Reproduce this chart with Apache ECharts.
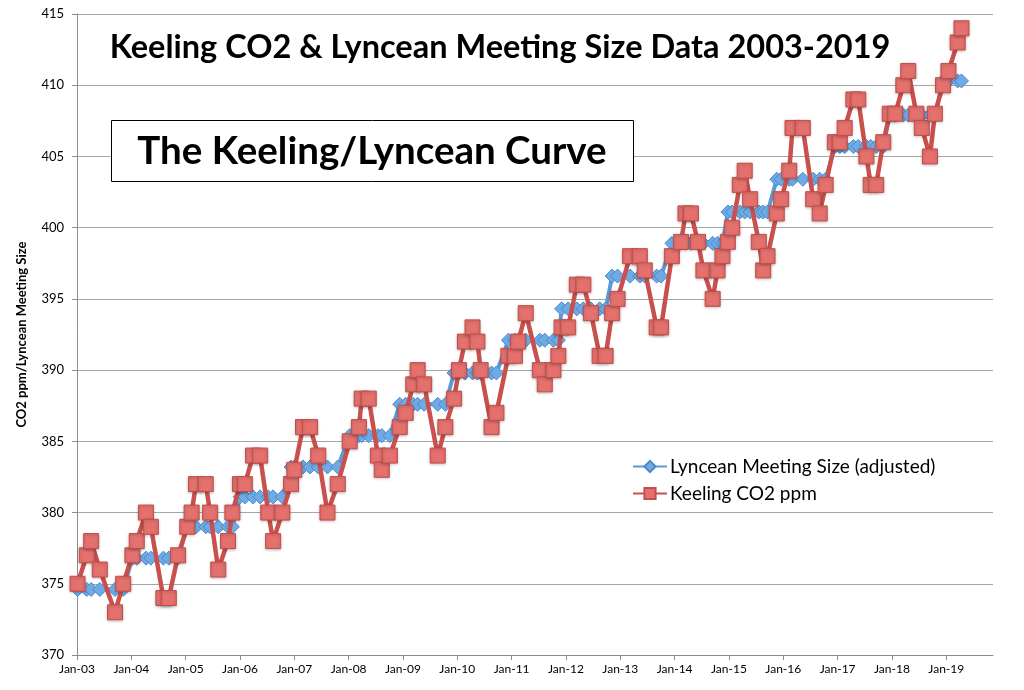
<!DOCTYPE html>
<html>
<head>
<meta charset="utf-8">
<script src="https://cdn.jsdelivr.net/npm/echarts@6/dist/echarts.min.js"></script>
<style>
html,body{margin:0;padding:0;background:#fff;}
#chart{width:1024px;height:690px;}
</style>
</head>
<body>
<div id="chart"></div>
<script>
// Meeting dates as decimal years
var meetingDates = [
2003.01,2003.18,2003.26,2003.42,2003.70,2003.85,
2004.02,2004.10,2004.27,2004.36,2004.59,2004.69,2004.86,
2005.03,2005.11,2005.19,2005.37,2005.45,2005.60,2005.78,2005.86,
2006.00,2006.09,2006.24,2006.37,2006.52,2006.61,2006.78,
2006.94,2007.00,2007.16,2007.29,2007.44,2007.61,2007.80,
2008.02,2008.19,2008.24,2008.37,2008.54,2008.61,2008.76,
2008.94,2009.05,2009.19,2009.27,2009.39,2009.64,2009.78,
2009.94,2010.03,2010.14,2010.28,2010.37,2010.43,2010.63,2010.72,
2010.94,2011.06,2011.12,2011.26,2011.52,2011.61,2011.77,2011.86,
2011.92,2012.04,2012.20,2012.32,2012.46,2012.62,2012.73,
2012.85,2012.95,2013.18,2013.36,2013.45,2013.67,2013.75,
2013.95,2014.12,2014.20,2014.30,2014.43,2014.53,2014.70,2014.79,2014.88,
2014.98,2015.06,2015.20,2015.29,2015.39,2015.55,2015.63,2015.71,
2015.88,2015.96,2016.11,2016.17,2016.36,2016.55,2016.67,2016.78,
2016.95,2017.04,2017.13,2017.29,2017.38,2017.53,2017.61,2017.71,2017.84,
2017.96,2018.06,2018.21,2018.30,2018.45,2018.55,2018.70,2018.79,
2018.94,2019.04,2019.21,2019.28
];

var keelingCO2 = [
375,377,378,376,373,375,
377,378,380,379,374,374,377,
379,380,382,382,380,376,378,380,
382,382,384,384,380,378,380,
382,383,386,386,384,380,382,
385,386,388,388,384,383,384,
386,387,389,390,389,384,386,
388,390,392,393,392,390,386,387,
391,391,392,394,390,389,390,391,
393,393,396,396,394,391,391,
394,395,398,398,397,393,393,
398,399,401,401,399,397,395,397,398,
399,400,403,404,402,399,397,398,
401,402,404,407,407,402,401,403,
406,406,407,409,409,405,403,403,406,
408,408,410,411,408,407,405,408,
410,411,413,414
];

var lynceanSize = [
374.6,374.6,374.6,374.6,374.6,374.6,
376.8,376.8,376.8,376.8,376.8,376.8,376.8,
379.0,379.0,379.0,379.0,379.0,379.0,379.0,379.0,
381.1,381.1,381.1,381.1,381.1,381.1,381.1,
383.2,383.2,383.2,383.2,383.2,383.2,383.2,
385.4,385.4,385.4,385.4,385.4,385.4,385.4,
387.6,387.6,387.6,387.6,387.6,387.6,387.6,
389.8,389.8,389.8,389.8,389.8,389.8,389.8,389.8,
392.1,392.1,392.1,392.1,392.1,392.1,392.1,392.1,
394.3,394.3,394.3,394.3,394.3,394.3,394.3,
396.6,396.6,396.6,396.6,396.6,396.6,396.6,
398.9,398.9,398.9,398.9,398.9,398.9,398.9,398.9,398.9,
401.1,401.1,401.1,401.1,401.1,401.1,401.1,401.1,
403.4,403.4,403.4,403.4,403.4,403.4,403.4,403.4,
405.7,405.7,405.7,405.7,405.7,405.7,405.7,405.7,405.7,
407.9,407.9,407.9,407.9,407.9,407.9,407.9,407.9,
410.3,410.3,410.3,410.3
];

var yTicks = {min: 370, max: 415, step: 5};
var xTicks = {min: 2003, max: 2019.86, step: 1};

var seriesNames = ['Lyncean Meeting Size (adjusted)', 'Keeling CO2 ppm'];
var titleText = 'Keeling CO2 & Lyncean Meeting Size Data 2003-2019';
var boxText = 'The Keeling/Lyncean Curve';
var yAxisTitle = 'CO2 ppm/Lyncean Meeting Size';

function zip(xs, ys){ return xs.map(function(x,i){ return [x, ys[i]]; }); }

var FONT = 'Lato, "Open Sans", sans-serif';

var chart = echarts.init(document.getElementById('chart'));
chart.setOption({
  animation: false,
  backgroundColor: '#fff',
  grid: {left: 77, right: 31, top: 14, bottom: 35, containLabel: false},
  xAxis: {
    type: 'value',
    min: xTicks.min, max: xTicks.max, interval: xTicks.step,
    axisLine: {show: true, lineStyle: {color: '#8c8c8c', width: 1}},
    axisTick: {show: true, inside: false, length: 5, lineStyle: {color: '#8c8c8c'}},
    splitLine: {show: false},
    axisLabel: {
      showMaxLabel: false,
      color: '#000', fontSize: 12, fontFamily: FONT, margin: 8,
      formatter: function(v){ var yy = Math.round(v) % 100; return 'Jan-' + (yy < 10 ? '0' + yy : yy); }
    }
  },
  yAxis: {
    type: 'value',
    min: yTicks.min, max: yTicks.max, interval: yTicks.step,
    name: yAxisTitle, nameLocation: 'middle', nameGap: 49, nameRotate: 90,
    nameTextStyle: {color: '#000', fontSize: 13, fontWeight: 'bold', fontFamily: FONT},
    axisLine: {show: true, lineStyle: {color: '#8c8c8c', width: 1}},
    axisTick: {show: true, inside: false, length: 5, lineStyle: {color: '#8c8c8c'}},
    splitLine: {show: true, lineStyle: {color: '#a6a6a6', width: 1}},
    axisLabel: {color: '#000', fontSize: 13, fontFamily: FONT, margin: 13}
  },
  legend: {
    orient: 'vertical', left: 627, top: 452, itemGap: 8,
    itemWidth: 34, itemHeight: 14,
    textStyle: {color: '#000', fontSize: 19, fontFamily: FONT, padding: [0,0,0,-2]},
    data: seriesNames
  },
  series: [
    {
      name: seriesNames[0], type: 'line', data: zip(meetingDates, lynceanSize),
      symbol: 'diamond', symbolSize: 14, z: 2,
      lineStyle: {color: '#5b9bd5', width: 4},
      itemStyle: {color: '#6eaae4', borderColor: '#4a8acb', borderWidth: 1}
    },
    {
      name: seriesNames[1], type: 'line', data: zip(meetingDates, keelingCO2),
      symbol: 'rect', symbolSize: 15, z: 3,
      lineStyle: {color: '#c9504d', width: 4.5},
      itemStyle: {color: '#e4716e', borderColor: '#c44e4b', borderWidth: 1,
                  shadowBlur: 3, shadowColor: 'rgba(0,0,0,0.25)', shadowOffsetY: 1}
    }
  ],
  graphic: [
    {type: 'text', z: 10, x: 500, y: 48,
     style: {text: titleText, fill: '#000', font: 'bold 32.5px ' + FONT, textAlign: 'center', textVerticalAlign: 'middle'}},
    {type: 'rect', z: 9, shape: {x: 111.5, y: 120.5, width: 522, height: 61},
     style: {fill: '#fff', stroke: '#000', lineWidth: 1}},
    {type: 'text', z: 10, x: 372, y: 152,
     style: {text: boxText, fill: '#000', font: 'bold 38.5px ' + FONT, textAlign: 'center', textVerticalAlign: 'middle'}}
  ]
});
</script>
</body>
</html>
